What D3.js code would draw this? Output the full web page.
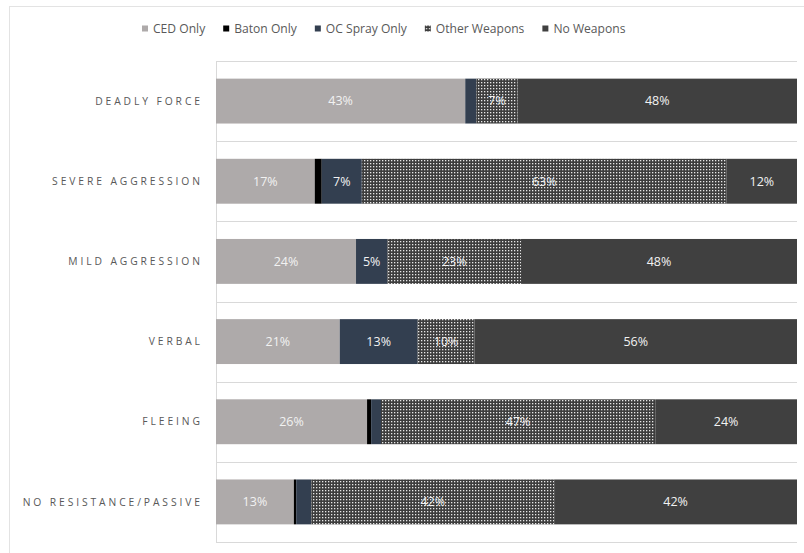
<!DOCTYPE html>
<html>
<head>
<meta charset="utf-8">
<script src="https://cdn.jsdelivr.net/npm/d3@7"></script>
<style>
  body { margin: 0; background: #fff; }
  svg { display: block; font-family: "Open Sans", sans-serif; }
</style>
</head>
<body>
<svg id="chart"></svg>
<script>
// chart data (percent of incidents by subject resistance level)
const categories = ["DEADLY FORCE", "SEVERE AGGRESSION", "MILD AGGRESSION", "VERBAL", "FLEEING", "NO RESISTANCE/PASSIVE"]
const seriesNames = ["CED Only", "Baton Only", "OC Spray Only", "Other Weapons", "No Weapons"]
const cedOnly    = [42.9, 17.0, 24.1, 21.3, 26.0, 13.4]
const batonOnly  = [0.0, 1.2, 0.0, 0.0, 0.7, 0.4]
const ocOnly     = [1.9, 6.9, 5.4, 13.4, 1.7, 2.6]
const otherWeap  = [7.1, 62.8, 23.0, 9.8, 47.2, 41.8]
const noWeapons  = [48.1, 12.1, 47.5, 55.5, 24.4, 41.8]

const width = 804, height = 553
const svg = d3.select('#chart')
              .attr('width', width)
              .attr('height', height)

// dotted pattern for "Other Weapons"
const defs = svg.append('defs')
const pat = defs.append('pattern')
    .attr('id', 'dots')
    .attr('width', 3).attr('height', 3)
    .attr('patternUnits', 'userSpaceOnUse')
pat.append('rect').attr('width', 3).attr('height', 3).attr('fill', '#3d3d3d')
pat.append('rect').attr('x', 1).attr('y', 1).attr('width', 1.3).attr('height', 1.3).attr('fill', '#e8e8e8')

const colors = ['#aeaaaa', '#000000', '#333f50', 'url(#dots)', '#404040']

// outer frame
svg.append('rect')
    .attr('x', 9.5).attr('y', 6.5)
    .attr('width', 820).attr('height', 580)
    .attr('fill', 'none')
    .attr('stroke', '#e3e3e3')

// build table rows and stack it
const table = categories.map((c, i) => ({
    cat: c,
    "CED Only": cedOnly[i],
    "Baton Only": batonOnly[i],
    "OC Spray Only": ocOnly[i],
    "Other Weapons": otherWeap[i],
    "No Weapons": noWeapons[i]
}))
const stacked = d3.stack().keys(seriesNames)(table)

const x = d3.scaleLinear().domain([0, 100]).range([216, 797])
const y = d3.scaleBand()
    .domain(categories)
    .range([61, 542])
    .paddingInner(0.44)
    .paddingOuter(0.22)

// horizontal grid lines between categories
const gridY = d3.range(categories.length + 1).map(i => 61 + i * (542 - 61) / categories.length)
svg.append('g')
    .selectAll('line')
    .data(gridY)
    .join('line')
    .attr('x1', x(0)).attr('x2', x(100))
    .attr('y1', d => Math.round(d) + 0.5).attr('y2', d => Math.round(d) + 0.5)
    .attr('stroke', '#d9d9d9')

// vertical axis line
svg.append('line')
    .attr('x1', x(0) + 0.5).attr('x2', x(0) + 0.5)
    .attr('y1', 61).attr('y2', 542)
    .attr('stroke', '#d9d9d9')

// bars
const layers = svg.append('g')
    .selectAll('g')
    .data(stacked)
    .join('g')
    .attr('fill', (d, i) => colors[i])

layers.selectAll('rect')
    .data(d => d)
    .join('rect')
    .attr('x', d => x(d[0]))
    .attr('width', d => x(d[1]) - x(d[0]))
    .attr('y', d => y(d.data.cat))
    .attr('height', y.bandwidth())

// value labels
layers.selectAll('text')
    .data(d => d.filter(v => v[1] - v[0] >= 5))
    .join('text')
    .attr('x', d => (x(d[0]) + x(d[1])) / 2)
    .attr('y', d => y(d.data.cat) + y.bandwidth() / 2)
    .attr('dy', '0.35em')
    .attr('text-anchor', 'middle')
    .attr('fill', '#f2f2f2')
    .style('font-size', '12.5px')
    .text(d => Math.round(d[1] - d[0]) + '%')

// category labels (letter spaced, right aligned)
const ls = 2.9
svg.append('g')
    .selectAll('text')
    .data(categories)
    .join('text')
    .attr('x', 200 + ls)
    .attr('y', d => y(d) + y.bandwidth() / 2)
    .attr('dy', '0.35em')
    .attr('text-anchor', 'end')
    .attr('fill', '#595959')
    .style('font-size', '10.3px')
    .style('letter-spacing', ls + 'px')
    .text(d => d)

// legend
const legend = svg.append('g')
let lx = 142
seriesNames.forEach((name, i) => {
    const g = legend.append('g').attr('transform', `translate(${lx},24)`)
    g.append('rect')
        .attr('width', 6).attr('height', 6).attr('y', 1.5)
        .attr('fill', colors[i])
    const t = g.append('text')
        .attr('x', 11).attr('y', 4.5)
        .attr('dy', '0.35em')
        .attr('fill', '#595959')
        .style('font-size', '12.1px')
        .text(name)
    lx += 11 + t.node().getComputedTextLength() + 18
})
</script>
</body>
</html>
